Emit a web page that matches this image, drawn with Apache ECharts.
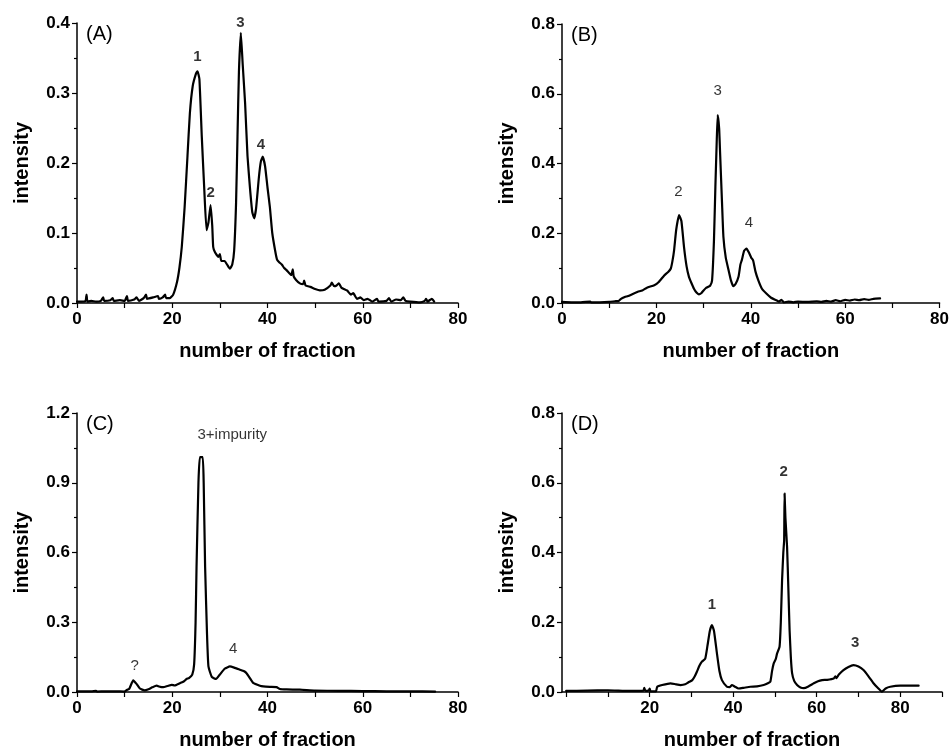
<!DOCTYPE html>
<html><head><meta charset="utf-8">
<script src="https://cdn.jsdelivr.net/npm/echarts@6/dist/echarts.min.js"></script>
<style>html,body{margin:0;padding:0;background:#fff}#c{width:952px;height:752px}</style>
</head><body><div id="c"></div>
<script>
// Panel A: [fraction, intensity]
const seriesA = [[0,0.002],[1,0.002],[1.8,0.003],[2,0.012],[2.2,0.002],[3,0.003],[4,0.002],[5,0.003],[5.5,0.008],[5.7,0.003],[7,0.004],[7.5,0.007],[7.7,0.003],[9,0.004],[10,0.003],[10.5,0.01],[10.7,0.003],[12,0.005],[12.5,0.008],[13,0.003],[14,0.007],[14.5,0.012],[14.7,0.006],[16,0.008],[17,0.01],[17.2,0.006],[18,0.008],[18.5,0.012],[18.7,0.007],[19.5,0.007],[20.2,0.012],[21,0.03],[21.5,0.05],[22,0.08],[22.6,0.137],[23.2,0.21],[23.7,0.271],[24.3,0.31],[25,0.328],[25.3,0.331],[25.7,0.32],[26.2,0.238],[26.7,0.166],[27.2,0.104],[27.6,0.115],[28.05,0.14],[28.4,0.11],[28.6,0.08],[29,0.072],[29.7,0.066],[30,0.07],[30.3,0.06],[31,0.06],[31.5,0.055],[32.1,0.049],[32.6,0.055],[33.0,0.075],[33.4,0.143],[33.7,0.238],[34.0,0.33],[34.4,0.386],[34.8,0.34],[35.3,0.285],[35.8,0.21],[36.3,0.166],[36.8,0.13],[37.2,0.121],[37.6,0.135],[38.2,0.18],[38.6,0.202],[39.0,0.209],[39.5,0.195],[40.0,0.165],[40.5,0.137],[41.0,0.1],[41.6,0.075],[42,0.062],[42.5,0.058],[43,0.055],[43.5,0.05],[44,0.047],[45,0.04],[45.3,0.048],[45.5,0.038],[46,0.033],[46.8,0.028],[47.5,0.027],[47.7,0.032],[48,0.025],[49,0.023],[50,0.02],[51,0.018],[52,0.019],[53.2,0.025],[53.5,0.029],[54,0.024],[54.5,0.025],[55,0.028],[55.5,0.022],[56.7,0.018],[57.5,0.012],[58,0.014],[58.8,0.006],[59.5,0.008],[60.2,0.004],[61,0.006],[62,0.002],[63,0.006],[63.3,0.002],[65,0.003],[65.5,0.007],[66,0.002],[67,0.005],[68,0.004],[68.5,0.008],[69,0.003],[70,0.002],[72,0.001],[73,0.003],[73.3,0.006],[73.6,0.002],[74.5,0.006],[75,0.002]];
const seriesB = [[0,0.003],[2,0.002],[4,0.002],[6,0.004],[6.2,0.002],[8,0.002],[10,0.003],[11.2,0.005],[12,0.006],[12.5,0.012],[13.3,0.017],[14,0.02],[15,0.026],[16.06,0.032],[17,0.036],[18,0.044],[19.56,0.051],[20.5,0.06],[21.66,0.079],[22.5,0.089],[23.06,0.099],[23.4,0.12],[23.75,0.151],[24.2,0.21],[24.8,0.252],[25.3,0.235],[25.85,0.161],[26.4,0.105],[26.9,0.075],[27.4,0.058],[27.96,0.041],[28.5,0.03],[29.0,0.025],[29.5,0.028],[30.0,0.036],[30.5,0.043],[30.9,0.046],[31.4,0.05],[31.8,0.065],[32.2,0.18],[32.5,0.333],[32.8,0.47],[33.0,0.539],[33.3,0.5],[33.5,0.43],[33.9,0.29],[34.2,0.19],[34.7,0.13],[35.3,0.094],[35.8,0.065],[36.3,0.048],[36.8,0.055],[37.4,0.075],[37.8,0.11],[38.1,0.123],[38.6,0.15],[39.1,0.156],[39.6,0.145],[40.1,0.13],[40.5,0.122],[41.0,0.09],[41.6,0.065],[42.4,0.04],[43.3,0.027],[44.3,0.015],[45.4,0.008],[46,0.004],[46.5,0.009],[47,0.002],[48,0.004],[49,0.002],[50,0.004],[52,0.003],[54,0.005],[55,0.003],[56,0.006],[57,0.004],[58,0.008],[59,0.005],[60,0.009],[61,0.007],[62,0.01],[63,0.008],[64,0.011],[65,0.009],[66,0.012],[67.4,0.013]];
const seriesC = [[0,0.003],[3,0.003],[4,0.005],[4.2,0.002],[6,0.003],[8,0.003],[10,0.002],[10.4,0.008],[11,0.015],[11.8,0.05],[12.5,0.035],[13.2,0.015],[14.2,0.007],[15,0.012],[15.8,0.02],[16.7,0.027],[17.5,0.022],[18.1,0.021],[19,0.026],[19.9,0.031],[20.5,0.028],[21.6,0.038],[22.4,0.045],[23.0,0.056],[23.5,0.06],[24.2,0.075],[24.6,0.12],[24.9,0.3],[25.1,0.539],[25.5,0.9],[25.8,1.01],[26.4,1.01],[26.6,0.9],[26.9,0.539],[27.3,0.25],[27.6,0.11],[28.3,0.065],[29.2,0.056],[30,0.075],[31,0.1],[32.1,0.11],[33,0.105],[34.2,0.096],[35,0.09],[35.6,0.081],[36.3,0.06],[37.0,0.039],[38.4,0.027],[39.1,0.024],[40.5,0.022],[41.9,0.021],[42.6,0.013],[44,0.011],[46.8,0.01],[50,0.006],[55,0.005],[60,0.004],[65,0.003],[70,0.003],[75.2,0.002]];
const seriesD = [[0,0.003],[5,0.004],[10,0.005],[15,0.003],[18.5,0.004],[18.7,0.012],[19,0.003],[19.8,0.005],[20,0.01],[20.2,0.002],[21.5,0.002],[21.8,0.015],[23,0.02],[25,0.025],[26.3,0.022],[27.4,0.02],[28.5,0.022],[29.3,0.028],[30.2,0.034],[30.8,0.045],[31.3,0.058],[31.9,0.075],[32.5,0.087],[33.3,0.096],[33.8,0.13],[34.4,0.175],[34.9,0.192],[35.4,0.175],[36.1,0.111],[36.7,0.06],[37.3,0.034],[38.5,0.015],[39.2,0.014],[39.7,0.02],[40.3,0.016],[41.3,0.01],[42.5,0.012],[44.1,0.015],[45.7,0.016],[47.3,0.02],[48.3,0.025],[48.9,0.03],[49.3,0.06],[49.7,0.082],[50.2,0.095],[50.5,0.11],[51.1,0.13],[51.4,0.2],[51.7,0.32],[52.0,0.4],[52.2,0.435],[52.3,0.569],[52.5,0.5],[52.9,0.416],[53.2,0.3],[53.5,0.178],[53.8,0.1],[54.1,0.054],[54.6,0.032],[55.3,0.02],[56.1,0.013],[56.9,0.011],[58,0.016],[59.3,0.025],[60.3,0.031],[61.3,0.034],[62.5,0.035],[64.1,0.039],[64.5,0.045],[64.7,0.04],[65.3,0.05],[66.4,0.063],[67.6,0.072],[68.8,0.077],[70,0.073],[71.2,0.063],[72.4,0.045],[73.6,0.025],[74.6,0.012],[75.6,0.001],[76.5,0.01],[77.6,0.015],[80,0.018],[82,0.018],[84.4,0.018]];

// Peak annotations: [x, y, text]
const notesA = [[25.3,0.351,'1'],[28.05,0.157,'2'],[34.3,0.4,'3'],[38.6,0.226,'4']];
const notesB = [[24.65,0.319,'2'],[33.0,0.608,'3'],[39.6,0.23,'4']];
const notesC = [[32.6,1.104,'3+impurity'],[12.1,0.113,'?'],[32.8,0.185,'4']];
const notesD = [[34.9,0.249,'1'],[52.1,0.631,'2'],[69.2,0.14,'3']];
const panelLetters = ['(A)','(B)','(C)','(D)'];

const yTicksA = [0,0.1,0.2,0.3,0.4];
const yTicksB = [0,0.2,0.4,0.6,0.8];
const yTicksC = [0,0.3,0.6,0.9,1.2];
const yTicksD = [0,0.2,0.4,0.6,0.8];
const xLabelsABC = [0,20,40,60,80];
const xLabelsD = [20,40,60,80];

const FONT = '"Liberation Sans", Arial, sans-serif';
const grids = [
  {left:77, top:23, width:381, height:280},
  {left:562, top:24, width:381, height:279},
  {left:77, top:413, width:381, height:279},
  {left:562, top:413, width:380, height:279}
];
const axisLine = {show:true, onZero:false, lineStyle:{color:'#000', width:1.5}};
function xAx(i, min, max, labels, ticks) {
  return {type:'value', gridIndex:i, min:min, max:max, splitLine:{show:false}, splitArea:{show:false},
    axisLine:axisLine,
    axisTick:{show:true, length:5, lineStyle:{color:'#000',width:1.2}, customValues:ticks},
    axisLabel:{color:'#000', fontFamily:FONT, fontWeight:'bold', fontSize:17, margin:8, customValues:labels},
    name:'number of fraction', nameLocation:'middle', nameGap:38,
    nameTextStyle:{color:'#000', fontFamily:FONT, fontWeight:'bold', fontSize:20}};
}
function yAx(i, ticks) {
  const step = ticks[1]-ticks[0];
  return {type:'value', gridIndex:i, min:ticks[0], max:ticks[ticks.length-1], interval:step,
    splitLine:{show:false}, splitArea:{show:false}, minorSplitLine:{show:false}, axisLine:axisLine,
    axisTick:{show:true, length:5, lineStyle:{color:'#000',width:1.2}},
    minorTick:{show:true, splitNumber:2, length:3, lineStyle:{color:'#000',width:1.2}},
    axisLabel:{color:'#000', fontFamily:FONT, fontWeight:'bold', fontSize:17, margin:7,
      formatter: v => v.toFixed(1)},
    name:'intensity', nameLocation:'middle', nameGap:45, nameRotate:90,
    nameTextStyle:{color:'#000', fontFamily:FONT, fontWeight:'bold', fontSize:20}};
}
function tickList(a,b,s){const r=[];for(let v=a;v<=b;v+=s)r.push(v);return r;}
function lineS(i, data) {
  return {type:'line', xAxisIndex:i, yAxisIndex:i, data:data, showSymbol:false, symbol:'none',
    smooth:0.15, lineStyle:{color:'#000', width:2.2, join:'round', cap:'round'}, silent:true, z:3};
}
function noteS(i, data, bold) {
  return {type:'scatter', xAxisIndex:i, yAxisIndex:i, data:data, symbolSize:0, silent:true, z:5,
    label:{show:true, position:'inside', formatter:p=>p.data[2], color:'#000', fontFamily:FONT,
      fontSize:15, fontWeight: bold ? 'bold':'normal'}};
}
const chart = echarts.init(document.getElementById('c'), null, {renderer:'canvas'});
chart.setOption({
  animation:false, backgroundColor:'#fff',
  grid: grids,
  xAxis: [xAx(0,0,80,xLabelsABC,tickList(0,80,10)), xAx(1,0,80,xLabelsABC,tickList(0,80,10)),
          xAx(2,0,80,xLabelsABC,tickList(0,80,10)), xAx(3,-1,90,xLabelsD,tickList(0,90,10))],
  yAxis: [yAx(0,yTicksA), yAx(1,yTicksB), yAx(2,yTicksC), yAx(3,yTicksD)],
  series: [lineS(0,seriesA), lineS(1,seriesB), lineS(2,seriesC), lineS(3,seriesD),
           noteS(0,notesA,true), noteS(1,notesB,false), noteS(2,notesC,false), noteS(3,notesD,true)],
  graphic: panelLetters.map((t,i)=>({type:'text', left:grids[i].left+9, top:grids[i].top+1,
    style:{text:t, fill:'#000', font:'normal 20px '+FONT}}))
});
</script></body></html>
